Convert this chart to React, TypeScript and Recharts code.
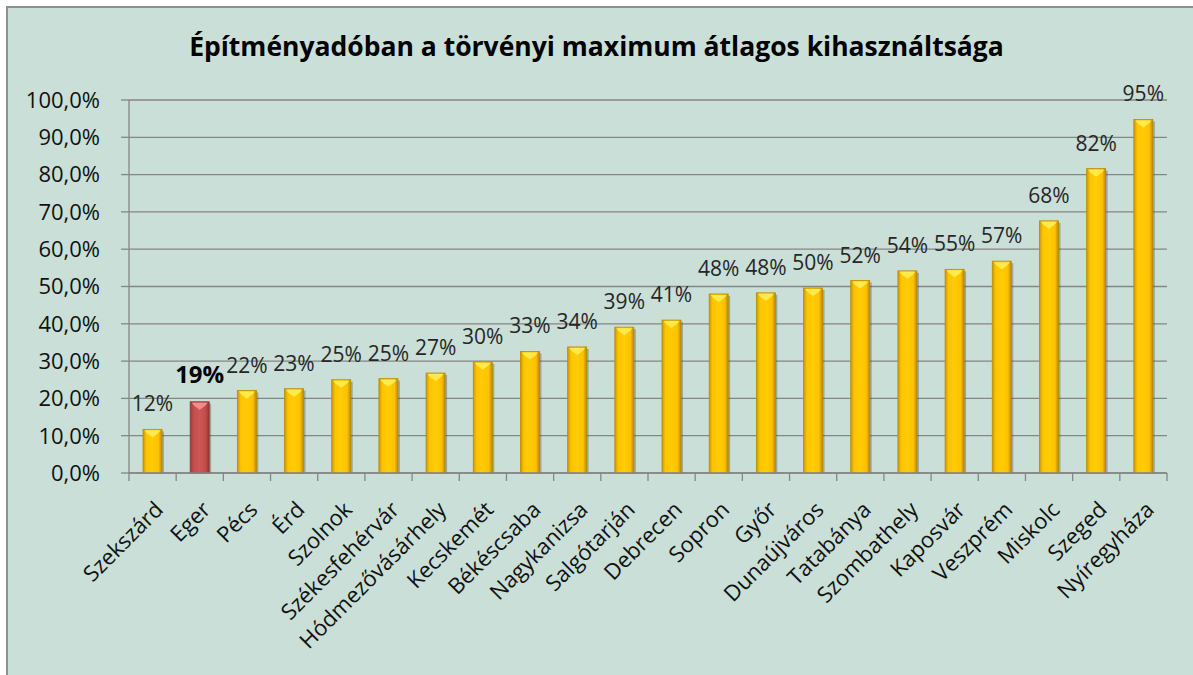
import { BarChart, Bar, XAxis, YAxis, CartesianGrid, LabelList } from 'recharts';

const title = 'Építményadóban a törvényi maximum átlagos kihasználtsága';

const cities = [
  'Szekszárd', 'Eger', 'Pécs', 'Érd', 'Szolnok', 'Székesfehérvár',
  'Hódmezővásárhely', 'Kecskemét', 'Békéscsaba', 'Nagykanizsa', 'Salgótarján',
  'Debrecen', 'Sopron', 'Győr', 'Dunaújváros', 'Tatabánya', 'Szombathely',
  'Kaposvár', 'Veszprém', 'Miskolc', 'Szeged', 'Nyíregyháza',
];

// percent values
const usage = [
  11.7, 19.1, 22.1, 22.6, 25.0, 25.3,
  26.8, 29.8, 32.6, 33.8, 39.1,
  41.0, 48.0, 48.3, 49.6, 51.6, 54.2,
  54.6, 56.8, 67.6, 81.6, 94.8,
];

const yTicks = [0, 10, 20, 30, 40, 50, 60, 70, 80, 90, 100];
const highlight = 'Eger';

const data = cities.map((city, i) => ({ city, value: usage[i] }));

const W = 1193;
const H = 675;
const margin = { top: 100, right: 26, left: 0, bottom: 0 };
const yAxisW = 129;
const xAxisH = 202;
const band = (W - margin.left - margin.right - yAxisW) / cities.length;

const FONT = '"Open Sans", sans-serif';
const GRID = '#868686';

function BevelBar(props: any) {
  const { x, y, width, height, payload } = props;
  if (!height || height <= 0) return null;
  const red = payload.city === highlight;
  const grad = red ? 'url(#redBar)' : 'url(#goldBar)';
  const top = red ? '#f28c8a' : '#ffea4d';
  const edge = red ? '#8e3634' : '#b88c00';
  return (
    <g>
      <rect x={x + 2} y={y + 2} width={width} height={height - 2} fill="rgba(70,70,60,0.35)" />
      <rect x={x} y={y} width={width} height={height} fill={grad} stroke={edge} strokeWidth={0.8} />
      <path
        d={`M${x + 1.5},${y + 1} L${x + width - 1.5},${y + 1} L${x + width - 4},${y + 4} L${x + width / 2},${y + 8} L${x + 4},${y + 4} Z`}
        fill={top}
      />
    </g>
  );
}

function BarValue(props: any) {
  const { x, y, width, value, index } = props;
  const red = cities[index] === highlight;
  return (
    <text
      x={x + width / 2}
      y={y - (red ? 19 : 18)}
      textAnchor="middle"
      fontFamily={FONT}
      fontSize={red ? 24 : 21}
      fontWeight={red ? 700 : 400}
      fill={red ? '#000' : '#262626'}
    >
      {Math.round(value)}%
    </text>
  );
}

function CityTick(props: any) {
  const { x, y, payload, index } = props;
  const left = x - band / 2;
  const ax = x + 12;
  const ay = y + 38;
  return (
    <g>
      <line x1={left} y1={y} x2={left} y2={y + 8} stroke={GRID} strokeWidth={1.3} />
      {index === cities.length - 1 && (
        <line x1={x + band / 2} y1={y} x2={x + band / 2} y2={y + 8} stroke={GRID} strokeWidth={1.3} />
      )}
      <text
        x={ax}
        y={ay}
        transform={`rotate(-45, ${ax}, ${ay})`}
        textAnchor="end"
        fontFamily={FONT}
        fontSize={22}
        fill="#111"
      >
        {payload.value}
      </text>
    </g>
  );
}

export default function App() {
  return (
    <div style={{ position: 'absolute', left: 0, top: 0, width: W, height: H, background: '#fff', overflow: 'hidden' }}>
      <div
        style={{
          position: 'absolute', left: 6, top: 6, width: W - 6, height: H - 6,
          background: '#c9dfd7', borderTop: '2.5px solid #8f8f8f', borderLeft: '2.5px solid #8f8f8f',
          boxSizing: 'border-box',
        }}
      />
      <div
        style={{
          position: 'absolute', left: 0, top: 28, width: W, textAlign: 'center',
          fontFamily: FONT, fontWeight: 700, fontSize: 26.5, color: '#000', lineHeight: '36px',
        }}
      >
        {title}
      </div>
      <div style={{ position: 'absolute', left: 0, top: 0 }}>
        <BarChart width={W} height={H} data={data} margin={margin} barSize={19}>
          <defs>
            <linearGradient id="goldBar" x1="0" y1="0" x2="1" y2="0">
              <stop offset="0%" stopColor="#c99700" />
              <stop offset="18%" stopColor="#ffc400" />
              <stop offset="50%" stopColor="#ffcc05" />
              <stop offset="82%" stopColor="#ffc000" />
              <stop offset="100%" stopColor="#b88a00" />
            </linearGradient>
            <linearGradient id="redBar" x1="0" y1="0" x2="1" y2="0">
              <stop offset="0%" stopColor="#9c3b39" />
              <stop offset="18%" stopColor="#c24e4c" />
              <stop offset="50%" stopColor="#cf5755" />
              <stop offset="82%" stopColor="#c04c4a" />
              <stop offset="100%" stopColor="#8e3634" />
            </linearGradient>
          </defs>
          <CartesianGrid vertical={false} stroke={GRID} strokeWidth={1.3} />
          <XAxis
            dataKey="city"
            interval={0}
            height={xAxisH}
            tickSize={0}
            tickMargin={0}
            tickLine={false}
            axisLine={{ stroke: GRID, strokeWidth: 1.5 }}
            tick={<CityTick />}
          />
          <YAxis
            width={yAxisW}
            domain={[0, 100]}
            ticks={yTicks}
            interval={0}
            tickFormatter={(v) => `${v},0%`}
            tickSize={8}
            tickMargin={21}
            tickLine={{ stroke: GRID, strokeWidth: 1.3 }}
            axisLine={{ stroke: GRID, strokeWidth: 1.3 }}
            tick={{ fontFamily: FONT, fontSize: 22, fill: '#111' }}
          />
          <Bar dataKey="value" shape={<BevelBar />} isAnimationActive={false}>
            <LabelList dataKey="value" content={<BarValue />} />
          </Bar>
        </BarChart>
      </div>
    </div>
  );
}
